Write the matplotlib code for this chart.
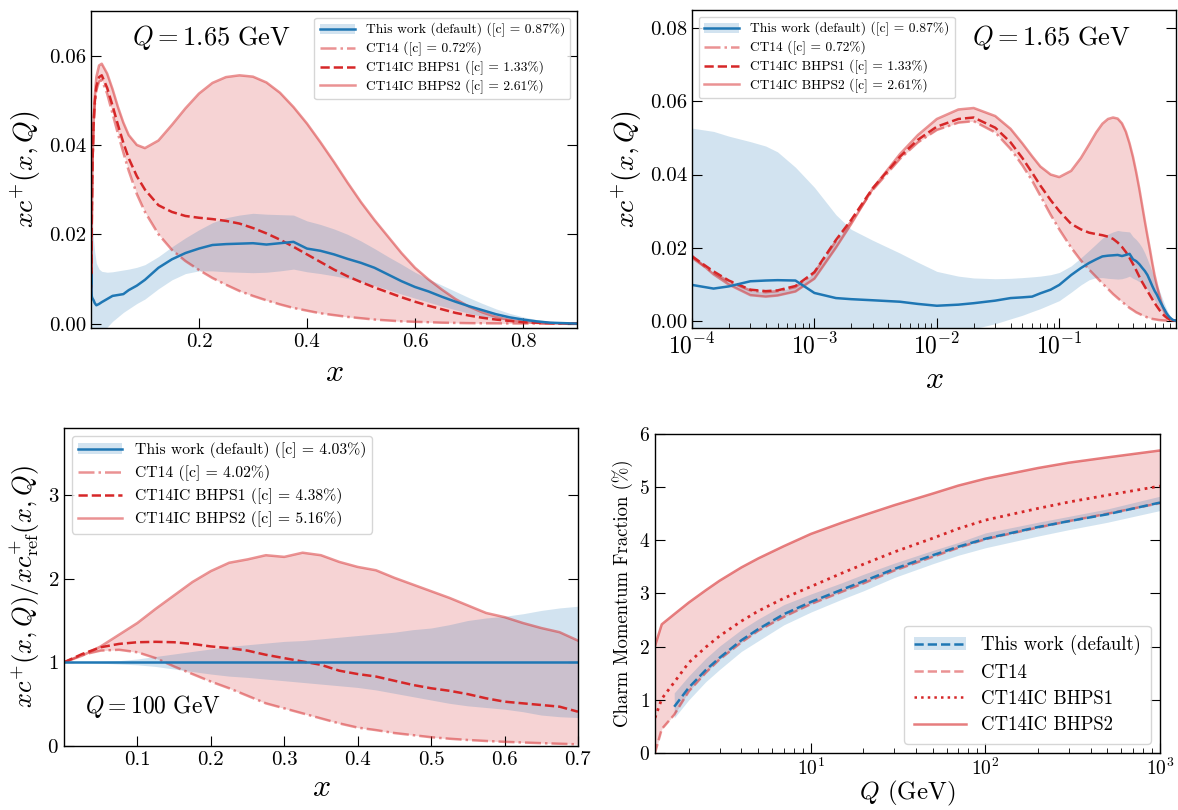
import matplotlib
matplotlib.use("Agg")
import matplotlib.pyplot as plt
from matplotlib.lines import Line2D
from matplotlib.patches import Patch
from matplotlib.ticker import FormatStrFormatter, LogLocator, NullFormatter

plt.rcParams.update({
    "font.family": "serif",
    "font.serif": ["cmr10"],
    "mathtext.fontset": "cm",
    "axes.formatter.use_mathtext": True,
    "axes.unicode_minus": False,
    "xtick.direction": "in",
    "ytick.direction": "in",
    "xtick.top": False,
    "ytick.right": True,
    "xtick.major.size": 7,
    "ytick.major.size": 7,
    "xtick.minor.size": 3.5,
    "ytick.minor.size": 3.5,
    "axes.linewidth": 1.0,
})

# --- xc+(x, Q) at Q = 1.65 GeV -------------------------------------------
X_Q0 = [1e-4, 1.5e-4, 2e-4, 3e-4, 4e-4, 5e-4, 7e-4, 1e-3, 1.5e-3, 2e-3,
        3e-3, 5e-3, 7e-3, 0.01, 0.015, 0.02, 0.03, 0.04, 0.05, 0.06,
        0.07, 0.085, 0.1, 0.125, 0.15, 0.175, 0.2, 0.225, 0.25, 0.275,
        0.3, 0.325, 0.35, 0.375, 0.4, 0.425, 0.45, 0.475, 0.5, 0.525,
        0.55, 0.575, 0.6, 0.625, 0.65, 0.675, 0.7, 0.725, 0.75, 0.775,
        0.8, 0.825, 0.85, 0.875, 0.9]

DEF_Q0 = [.0098, .0088, .0094, .0108, .0110, .0111, .0110, .0076, .0062, .0059,
          .0056, .0052, .0046, .0041, .0044, .0048, .0055, .0062, .0064, .0066,
          .0075, .0085, .0098, .0125, .0144, .0158, .0168, .0176, .0178, .0179,
          .0180, .0177, .0180, .0183, .0168, .0163, .0155, .0145, .0136, .0125,
          .0110, .0095, .0082, .0072, .0060, .0049, .0039, .0030, .0021, .0014,
          .0009, .0005, .0002, .0001, 0.0]
DEF_HI_Q0 = [.0527, .0518, .0505, .0490, .0478, .0462, .0420, .0365, .0290, .0250,
             .0220, .0185, .0160, .0135, .0122, .0117, .0115, .0116, .0118, .0120,
             .0122, .0126, .0132, .0150, .0172, .0192, .0210, .0226, .0237, .0243,
             .0247, .0245, .0244, .0243, .0230, .0222, .0212, .0200, .0185, .0168,
             .0150, .0133, .0115, .0100, .0086, .0072, .0058, .0045, .0033, .0023,
             .0015, .0009, .0005, .0002, 0.0]
DEF_LO_Q0 = [-.0060, -.0060, -.0060, -.0060, -.0060, -.0060, -.0060, -.0060, -.0058, -.0056,
             -.0053, -.0050, -.0045, -.0040, -.0030, -.0022, -.0008, .0005, .0015, .0025,
             .0033, .0045, .0055, .0078, .0098, .0112, .0118, .0118, .0116, .0115,
             .0114, .0115, .0118, .0122, .0116, .0112, .0107, .0101, .0094, .0085,
             .0076, .0066, .0057, .0048, .0039, .0031, .0023, .0016, .0011, .0007,
             .0004, .0002, .0001, 0.0, 0.0]
CT14_Q0 = [.0172, .0131, .0107, .0083, .0078, .0081, .0092, .0131, .0218, .0272,
           .0358, .0443, .0488, .0522, .0542, .0546, .0515, .0470, .0425, .0383,
           .0342, .0290, .0250, .0200, .0165, .0140, .0120, .0102, .0087, .0073,
           .0062, .0052, .0043, .0035, .0029, .0023, .0019, .0015, .0012, .0009,
           .0007, .0005, .0004, .0003, .0002, .00015, .0001, .00007, .00005, .00003,
           .00002, .00001, 0.0, 0.0, 0.0]
BHPS1_Q0 = [.0176, .0135, .0110, .0085, .0081, .0083, .0095, .0133, .0221, .0276,
            .0363, .0449, .0495, .0531, .0552, .0556, .0528, .0488, .0445, .0405,
            .0370, .0330, .0300, .0265, .0250, .0241, .0237, .0234, .0230, .0224,
            .0214, .0202, .0188, .0172, .0155, .0138, .0121, .0106, .0093, .0081,
            .0070, .0059, .0049, .0040, .0032, .0024, .0018, .0013, .0009, .0006,
            .0003, .0002, .0001, .00004, 0.0]
BHPS2_Q0 = [.0178, .0127, .0099, .0070, .0066, .0069, .0080, .0115, .0200, .0265,
            .0362, .0456, .0508, .0552, .0578, .0582, .0560, .0525, .0485, .0450,
            .0422, .0400, .0393, .0410, .0445, .0482, .0515, .0539, .0552, .0556,
            .0553, .0540, .0517, .0485, .0448, .0406, .0362, .0316, .0272, .0232,
            .0195, .0158, .0125, .0099, .0076, .0055, .0038, .0025, .0015, .0008,
            .0004, .00015, .00005, .00001, 0.0]

# --- ratio to reference at Q = 100 GeV -----------------------------------
X_R = [0.0, 0.025, 0.05, 0.075, 0.1, 0.125, 0.15, 0.175, 0.2, 0.225,
       0.25, 0.275, 0.3, 0.325, 0.35, 0.375, 0.4, 0.425, 0.45, 0.475,
       0.5, 0.525, 0.55, 0.575, 0.6, 0.625, 0.65, 0.675, 0.7]
REF_RATIO = 1.0
DEF_HI_R = [1.0, 1.0, 1.01, 1.02, 1.04, 1.07, 1.10, 1.13, 1.16, 1.19,
            1.21, 1.23, 1.25, 1.26, 1.28, 1.30, 1.32, 1.34, 1.36, 1.39,
            1.41, 1.45, 1.50, 1.53, 1.55, 1.58, 1.62, 1.65, 1.67]
DEF_LO_R = [1.0, 1.0, 0.99, 0.98, 0.97, 0.95, 0.92, 0.89, 0.86, 0.835,
            0.82, 0.80, 0.78, 0.76, 0.74, 0.72, 0.70, 0.67, 0.63, 0.59,
            0.55, 0.51, 0.48, 0.46, 0.44, 0.41, 0.37, 0.35, 0.34]
CT14_R = [1.0, 1.09, 1.14, 1.15, 1.12, 1.05, 0.95, 0.86, 0.77, 0.69,
          0.60, 0.51, 0.45, 0.39, 0.33, 0.27, 0.22, 0.19, 0.155, 0.13,
          0.105, 0.087, 0.072, 0.06, 0.05, 0.042, 0.034, 0.027, 0.02]
BHPS1_R = [1.0, 1.10, 1.18, 1.22, 1.24, 1.245, 1.24, 1.22, 1.19, 1.17,
           1.14, 1.09, 1.05, 1.01, 0.97, 0.90, 0.86, 0.83, 0.78, 0.73,
           0.69, 0.66, 0.62, 0.57, 0.53, 0.51, 0.49, 0.47, 0.41]
BHPS2_R = [1.0, 1.08, 1.19, 1.33, 1.47, 1.64, 1.80, 1.96, 2.09, 2.19,
           2.23, 2.28, 2.26, 2.31, 2.28, 2.20, 2.14, 2.10, 2.01, 1.93,
           1.85, 1.77, 1.68, 1.59, 1.54, 1.47, 1.41, 1.36, 1.26]

# --- charm momentum fraction vs Q (%) ------------------------------------
Q = [1.28, 1.4, 1.65, 2, 2.5, 3, 4, 5, 7, 10,
     15, 20, 30, 50, 70, 100, 200, 300, 500, 1000]
CT14_MF = [0.0, 0.45, 0.72, 1.16, 1.51, 1.76, 2.08, 2.30, 2.56, 2.80,
           3.03, 3.19, 3.43, 3.69, 3.86, 4.02, 4.24, 4.36, 4.50, 4.70]
BHPS1_MF = [0.66, 1.02, 1.33, 1.70, 1.99, 2.20, 2.48, 2.67, 2.91, 3.13,
            3.38, 3.55, 3.78, 4.04, 4.22, 4.38, 4.60, 4.72, 4.85, 5.02]
BHPS2_MF = [2.01, 2.42, 2.61, 2.83, 3.06, 3.24, 3.49, 3.66, 3.89, 4.12,
            4.33, 4.47, 4.66, 4.88, 5.03, 5.16, 5.36, 5.46, 5.56, 5.69]
Q_DEF = [1.65, 2, 2.5, 3, 4, 5, 7, 10, 15, 20,
         30, 50, 70, 100, 200, 300, 500, 1000]
DEF_MF = [0.87, 1.23, 1.56, 1.79, 2.12, 2.33, 2.61, 2.84, 3.07, 3.23,
          3.46, 3.72, 3.88, 4.03, 4.25, 4.36, 4.49, 4.71]
DEF_HI_MF = [1.13, 1.45, 1.78, 2.01, 2.32, 2.52, 2.79, 2.99, 3.20, 3.36,
             3.57, 3.81, 3.96, 4.14, 4.34, 4.45, 4.59, 4.83]
DEF_LO_MF = [0.66, 1.00, 1.34, 1.57, 1.91, 2.11, 2.41, 2.65, 2.89, 3.05,
             3.30, 3.56, 3.72, 3.86, 4.08, 4.20, 4.34, 4.56]

LABELS = ["This work (default)", "CT14", "CT14IC BHPS1", "CT14IC BHPS2"]
FRAC_Q0 = ["0.87", "0.72", "1.33", "2.61"]
FRAC_Q100 = ["4.03", "4.02", "4.38", "5.16"]

BLUE = "C0"
RED = "C3"
LW = 1.8


def handles(ls_ct14="-.", ls_bhps1="--", ls_def="-", a_bhps2=0.5):
    h_def = (Patch(facecolor=BLUE, alpha=0.2, lw=0),
             Line2D([], [], color=BLUE, lw=LW, ls=ls_def))
    h_ct14 = Line2D([], [], color=RED, alpha=0.5, lw=LW, ls=ls_ct14)
    h_b1 = Line2D([], [], color=RED, lw=LW, ls=ls_bhps1)
    h_b2 = Line2D([], [], color=RED, alpha=a_bhps2, lw=LW)
    return [h_def, h_ct14, h_b1, h_b2]


def frac_labels(fracs):
    return [f"{lab} ([c] = {f}%)" for lab, f in zip(LABELS, fracs)]


def draw_q0(ax):
    ax.fill_between(X_Q0, CT14_Q0, BHPS2_Q0, color=RED, alpha=0.2, lw=0)
    ax.fill_between(X_Q0, DEF_LO_Q0, DEF_HI_Q0, color=BLUE, alpha=0.2, lw=0)
    ax.plot(X_Q0, CT14_Q0, color=RED, alpha=0.5, ls="-.", lw=LW)
    ax.plot(X_Q0, BHPS2_Q0, color=RED, alpha=0.5, lw=LW)
    ax.plot(X_Q0, BHPS1_Q0, color=RED, ls="--", lw=LW)
    ax.plot(X_Q0, DEF_Q0, color=BLUE, lw=LW)
    ax.set_ylabel(r"$xc^{+}(x,Q)$", fontsize=20)
    ax.set_xlabel(r"$x$", fontsize=23, labelpad=6)
    ax.tick_params(labelsize=15)
    ax.yaxis.set_major_formatter(FormatStrFormatter("%.2f"))


fig = plt.figure(figsize=(11.78, 8.10), dpi=100)

# top left: linear x
ax1 = fig.add_axes([0.0772, 0.595, 0.4126, 0.3914])
draw_q0(ax1)
ax1.set_xlim(0, 0.9)
ax1.set_ylim(-0.001, 0.07)
ax1.set_xticks([0.2, 0.4, 0.6, 0.8])
ax1.set_yticks([0.0, 0.02, 0.04, 0.06])
ax1.xaxis.set_major_formatter(FormatStrFormatter("%.1f"))
ax1.text(0.085, 0.915, r"$Q = 1.65\ \mathrm{GeV}$", transform=ax1.transAxes,
         fontsize=19, va="center")
ax1.legend(handles(), frac_labels(FRAC_Q0), loc="upper right", fontsize=9.7,
           handlelength=2.6, framealpha=0.8, edgecolor="0.8",
           borderpad=0.4, labelspacing=0.35)

# top right: log x
ax2 = fig.add_axes([0.5874, 0.595, 0.411, 0.3926])
draw_q0(ax2)
ax2.set_xscale("log")
ax2.set_xlim(1e-4, 0.9)
ax2.set_ylim(-0.002, 0.085)
ax2.set_yticks([0.0, 0.02, 0.04, 0.06, 0.08])
ax2.xaxis.set_minor_locator(LogLocator(base=10, subs=range(2, 10), numticks=20))
ax2.xaxis.set_minor_formatter(NullFormatter())
ax2.tick_params(axis="x", labelsize=17)
ax2.text(0.578, 0.915, r"$Q = 1.65\ \mathrm{GeV}$", transform=ax2.transAxes,
         fontsize=19, va="center")
ax2.legend(handles(), frac_labels(FRAC_Q0), loc="upper left", fontsize=9.7,
           handlelength=2.6, framealpha=0.8, edgecolor="0.8",
           borderpad=0.4, labelspacing=0.35)

# bottom left: ratio at Q = 100 GeV
ax3 = fig.add_axes([0.0543, 0.079, 0.4363, 0.3926])
ax3.fill_between(X_R, CT14_R, BHPS2_R, color=RED, alpha=0.2, lw=0)
ax3.fill_between(X_R, DEF_LO_R, DEF_HI_R, color=BLUE, alpha=0.2, lw=0)
ax3.plot(X_R, CT14_R, color=RED, alpha=0.5, ls="-.", lw=LW)
ax3.plot(X_R, BHPS2_R, color=RED, alpha=0.5, lw=LW)
ax3.plot(X_R, BHPS1_R, color=RED, ls="--", lw=LW)
ax3.axhline(REF_RATIO, color=BLUE, lw=LW)
ax3.set_xlim(0, 0.7)
ax3.set_ylim(0, 3.8)
ax3.set_xticks([0.1, 0.2, 0.3, 0.4, 0.5, 0.6, 0.7])
ax3.set_yticks([0, 1, 2, 3])
ax3.xaxis.set_major_formatter(FormatStrFormatter("%.1f"))
ax3.tick_params(labelsize=15)
ax3.set_xlabel(r"$x$", fontsize=23, labelpad=4)
ax3.set_ylabel(r"$xc^{+}(x,Q)/xc^{+}_{\rm ref}(x,Q)$", fontsize=19)
ax3.text(0.041, 0.123, r"$Q = 100\ \mathrm{GeV}$", transform=ax3.transAxes,
         fontsize=17, va="center")
ax3.legend(handles(), frac_labels(FRAC_Q100), loc="upper left", fontsize=11.3,
           handlelength=2.8, framealpha=0.8, edgecolor="0.8",
           borderpad=0.4, labelspacing=0.45)

# bottom right: charm momentum fraction
ax4 = fig.add_axes([0.556, 0.0704, 0.4287, 0.3938])
ax4.fill_between(Q, CT14_MF, BHPS2_MF, color=RED, alpha=0.2, lw=0)
ax4.fill_between(Q_DEF, DEF_LO_MF, DEF_HI_MF, color=BLUE, alpha=0.2, lw=0)
ax4.plot(Q, CT14_MF, color=RED, alpha=0.5, ls="--", lw=LW)
ax4.plot(Q, BHPS1_MF, color=RED, ls=":", lw=2.0)
ax4.plot(Q, BHPS2_MF, color=RED, alpha=0.6, lw=LW)
ax4.plot(Q_DEF, DEF_MF, color=BLUE, ls="--", lw=LW)
ax4.set_xscale("log")
ax4.set_xlim(1.28, 1000)
ax4.set_ylim(0, 6)
ax4.xaxis.set_minor_locator(LogLocator(base=10, subs=range(2, 10), numticks=20))
ax4.xaxis.set_minor_formatter(NullFormatter())
ax4.tick_params(labelsize=14)
ax4.set_xlabel(r"$Q$ (GeV)", fontsize=18, labelpad=0)
ax4.set_ylabel("Charm Momentum Fraction (%)", fontsize=13.5)
ax4.legend(handles(ls_ct14="--", ls_bhps1=":", ls_def="--", a_bhps2=0.6),
           LABELS, loc="lower right", fontsize=13.5, handlelength=2.8,
           framealpha=0.8, edgecolor="0.8", borderpad=0.5, labelspacing=0.45)

fig.savefig("out.png", dpi=100)
